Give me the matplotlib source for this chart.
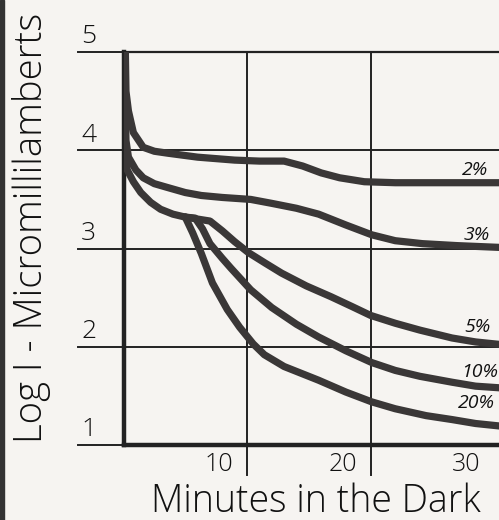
import matplotlib
matplotlib.use("Agg")
import matplotlib.pyplot as plt
from matplotlib.patches import Rectangle

# minutes in the dark / log I
t_2 = [0.15, 0.2, 0.4, 0.8, 1.6, 2.5, 3.6, 6.0, 9.0, 11.0, 13.0, 14.5, 16.0, 17.5, 19.5, 22.0, 25.0, 28.0, 30.8]
v_2 = [5.0, 4.6, 4.40, 4.18, 4.03, 3.99, 3.97, 3.93, 3.90, 3.89, 3.89, 3.84, 3.77, 3.72, 3.68, 3.67, 3.67, 3.67, 3.67]

t_3 = [0.15, 0.15, 0.2, 0.4, 1.0, 1.6, 2.5, 3.6, 5.0, 6.3, 8.0, 10.3, 12.0, 14.0, 15.8, 18.0, 20.1, 22.0, 24.2, 27.0, 30.8]
v_3 = [5.0, 4.5, 4.1, 3.93, 3.80, 3.72, 3.66, 3.62, 3.57, 3.54, 3.52, 3.50, 3.46, 3.41, 3.35, 3.24, 3.14, 3.08, 3.05, 3.03, 3.01]

# shared trunk of the 5 / 10 / 20 % curves
t_trunk = [0.15, 0.15, 0.15, 0.3, 0.8, 1.4, 2.2, 3.0, 4.0, 5.0]
v_trunk = [5.0, 4.5, 4.0, 3.80, 3.68, 3.57, 3.47, 3.40, 3.35, 3.32]

t_5 = [6.0, 7.0, 8.0, 9.0, 10.1, 11.5, 12.8, 14.8, 16.8, 18.5, 20.0, 22.0, 24.0, 26.6, 28.5, 30.8]
v_5 = [3.30, 3.28, 3.18, 3.07, 2.96, 2.85, 2.75, 2.62, 2.51, 2.41, 2.32, 2.24, 2.17, 2.09, 2.05, 2.02]

t_10 = [5.8, 6.4, 7.0, 8.0, 8.7, 10.3, 12.0, 14.0, 15.8, 18.0, 20.1, 22.0, 24.0, 26.6, 28.5, 30.8]
v_10 = [3.31, 3.20, 3.05, 2.90, 2.80, 2.58, 2.40, 2.23, 2.10, 1.96, 1.84, 1.76, 1.70, 1.64, 1.60, 1.58]

t_20 = [5.0, 5.6, 6.3, 7.2, 8.4, 9.4, 10.5, 11.4, 13.0, 15.8, 18.0, 20.1, 22.0, 24.5, 26.6, 28.5, 30.8]
v_20 = [3.32, 3.16, 2.95, 2.65, 2.38, 2.20, 2.03, 1.92, 1.80, 1.66, 1.54, 1.44, 1.37, 1.30, 1.26, 1.22, 1.19]

curve_labels = ["2%", "3%", "5%", "10%", "20%"]
label_x = [27.4, 27.5, 27.6, 27.3, 27.1]
label_y = [3.75, 3.09, 2.15, 1.69, 1.38]

y_ticks = [1, 2, 3, 4, 5]
x_ticks = [10, 20, 30]

ink = "#3a3737"
paper = "#f6f4f1"
font = ["Open Sans", "DejaVu Sans"]

fig = plt.figure(figsize=(4.99, 5.20), dpi=100, facecolor=paper)
ax = fig.add_axes([0.2475, 0.144, 0.7525, 0.756])
ax.set_facecolor(paper)
ax.set_xlim(0, 30.4)
ax.set_ylim(1, 5)

ax.spines["right"].set_visible(False)
ax.spines["left"].set_linewidth(3.2)
ax.spines["bottom"].set_linewidth(3.2)
ax.spines["top"].set_linewidth(1.6)
for s in ["left", "bottom", "top"]:
    ax.spines[s].set_color("#222222")
ax.set_xticks([])
ax.set_yticks([])

# grid lines run out past the frame like hand-ruled ticks
for v in y_ticks:
    ax.axhline(v, xmin=-0.12, xmax=1, color="#222222", lw=1.4, clip_on=False, zorder=1)
for t in x_ticks[:2]:
    ax.axvline(t, ymin=-0.076, ymax=1, color="#222222", lw=1.4, clip_on=False, zorder=1)

style = dict(color=ink, lw=5.2, solid_capstyle="round", solid_joinstyle="round", zorder=3)
ax.plot(t_2, v_2, **style)
ax.plot(t_3, v_3, **style)
ax.plot(t_trunk, v_trunk, **style)
ax.plot([t_trunk[-1]] + t_5, [v_trunk[-1]] + v_5, **style)
ax.plot([t_trunk[-1]] + t_10, [v_trunk[-1]] + v_10, **style)
ax.plot([t_trunk[-1]] + t_20, [v_trunk[-1]] + v_20, **style)

for lab, x, y in zip(curve_labels, label_x, label_y):
    ax.text(x, y, lab, fontsize=14, style="italic", color="#111111",
            ha="left", va="baseline", family=font,
            clip_on=False, zorder=4)

for v in y_ticks:
    ax.annotate(str(v), xy=(0, v), xytext=(-25, 11), textcoords="offset points",
                ha="center", va="center", fontsize=19, family=font, fontweight="light",
                color="#111111", annotation_clip=False)
for t in x_ticks:
    ax.annotate(str(t), xy=(t, 1), xytext=(-20, -14), textcoords="offset points",
                ha="center", va="center", fontsize=18, family=font, fontweight="light",
                color="#111111", annotation_clip=False)

fig.text(0.634, 0.036, "Minutes in the Dark", ha="center", va="center",
         fontsize=27, family=font, fontweight="light", color="#111111")
fig.text(0.064, 0.5615, "Log I - Micromillilamberts", ha="center", va="center",
         rotation=90, fontsize=27.5, family=font, fontweight="light", color="#111111")

fig.add_artist(Rectangle((0, 0), 0.008, 1, transform=fig.transFigure, color="#333333"))

fig.savefig("out.png", dpi=100, facecolor=paper)
